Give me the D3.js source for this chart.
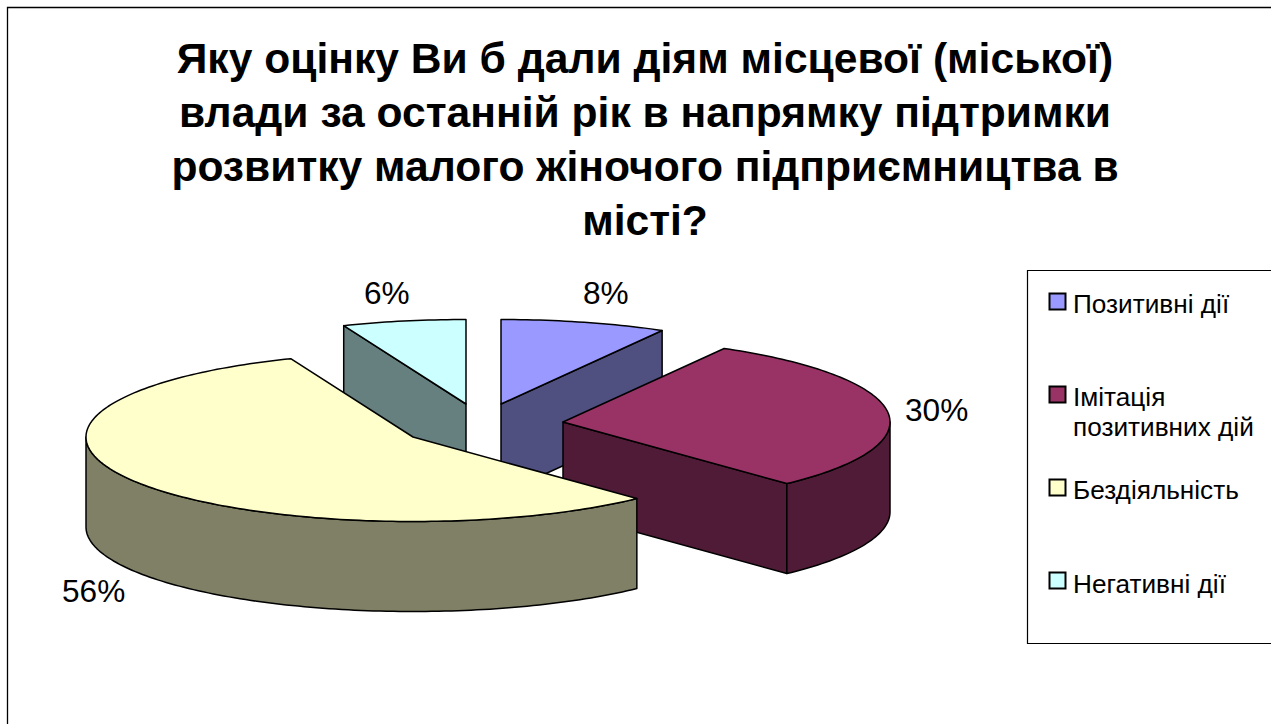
<!DOCTYPE html>
<html lang="uk"><head><meta charset="utf-8">
<script src="https://cdn.jsdelivr.net/npm/d3@7/dist/d3.min.js"></script>
<style>html,body{margin:0;padding:0;background:#fff}svg{display:block}text{font-family:"Liberation Sans",Arial,sans-serif;fill:#000}</style>
</head><body><div id="chart"></div>
<script>
const titleLines = ["Яку оцінку Ви б дали діям місцевої (міської)","влади за останній рік в напрямку підтримки","розвитку малого жіночого підприємництва в","місті?"];
const categories = ["Позитивні дії","Імітація позитивних дій","Бездіяльність","Негативні дії"];
const legendLines = [["Позитивні дії"],["Імітація","позитивних дій"],["Бездіяльність"],["Негативні дії"]];
const values = [8.2,29.8,55.9,6.1];
const topColors = ["#9999FF","#993366","#FFFFCC","#CCFFFF"];
const wallColors = ["#4F4F80","#4F1B36","#808066","#668080"];

const W=1271,H=724, RX=327, RY=84.5, DEPTH=90;
const centers=[[501,404],[563,422],[413,437],[466,404]];
const labelPos=[[583,304],[905,421],[62,602],[364,304]];
const legendY=[293,386,479,572];
const legendBase=[[313],[406,436],[499],[593]];

const svg=d3.select("#chart").append("svg").attr("width",W).attr("height",H);
svg.append("rect").attr("width",W).attr("height",H).attr("fill","#fff");
svg.append("path").attr("d",`M${W},7.5H7.5V${H}`).attr("fill","none").attr("stroke","#000").attr("stroke-width",1.3);

svg.selectAll("text.title").data(titleLines).join("text").attr("class","title")
 .attr("x",645).attr("y",(d,i)=>73+i*54).attr("text-anchor","middle")
 .attr("font-size",42.6).attr("font-weight","bold").text(d=>d);

const pie=d3.pie().sort(null).value(d=>d)(values);
const line=d3.line();
function pt(c,a,z=0){return [c[0]+RX*Math.sin(a),c[1]-RY*Math.cos(a)+z];}
function arcPts(c,a0,a1,z=0){const n=Math.max(2,Math.ceil((a1-a0)/0.02));
  return d3.range(n+1).map(i=>pt(c,a0+(a1-a0)*i/n,z));}
const drawOrder=[0,3,1,2];
const g=svg.append("g").attr("stroke","#000").attr("stroke-width",1.5).attr("stroke-linejoin","round");
drawOrder.forEach(i=>{
  const s=pie[i],c=centers[i],a0=s.startAngle,a1=s.endAngle;
  const wall=wallColors[i];
  // cut faces
  [[a0,-Math.sin(a0)],[a1,Math.sin(a1)]].forEach(([a,v])=>{
    if(v>1e-6){const p=pt(c,a);
      g.append("path").attr("fill",wall).attr("d",line([c,p,[p[0],p[1]+DEPTH],[c[0],c[1]+DEPTH]])+"Z");}
  });
  // outer wall
  const lo=Math.max(a0,Math.PI/2),hi=Math.min(a1,3*Math.PI/2);
  if(hi>lo){
    const topEdge=arcPts(c,lo,hi),botEdge=arcPts(c,lo,hi,DEPTH).reverse();
    g.append("path").attr("fill",wall).attr("d",line(topEdge.concat(botEdge))+"Z");
  }
  // top surface
  g.append("path").attr("fill",topColors[i]).attr("d",line([c].concat(arcPts(c,a0,a1)))+"Z");
});

svg.selectAll("text.pct").data(values).join("text").attr("class","pct")
 .attr("x",(d,i)=>labelPos[i][0]).attr("y",(d,i)=>labelPos[i][1])
 .attr("font-size",31.6).text(d=>Math.round(d)+"%");

svg.append("path").attr("d",`M${W},270.5H1027.5V643.5H${W}`).attr("fill","#fff").attr("stroke","#000").attr("stroke-width",1.2);
const lg=svg.selectAll("g.leg").data(categories).join("g").attr("class","leg");
lg.append("rect").attr("x",1049.5).attr("y",(d,i)=>legendY[i]+.5).attr("width",16).attr("height",16)
 .attr("fill",(d,i)=>topColors[i]).attr("stroke","#000").attr("stroke-width",2);
lg.each(function(d,i){
  d3.select(this).selectAll("text").data(legendLines[i]).join("text")
   .attr("x",1073).attr("y",(t,j)=>legendBase[i][j]).attr("font-size",26.2).text(t=>t);
});
</script></body></html>
